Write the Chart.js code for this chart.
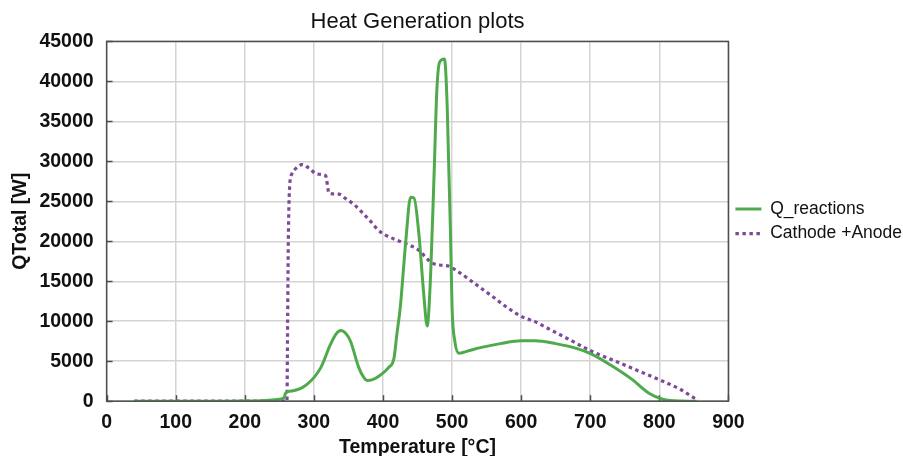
<!DOCTYPE html>
<html>
<head>
<meta charset="utf-8">
<script src="https://cdn.jsdelivr.net/npm/chart.js@4/dist/chart.umd.min.js"></script>
<style>
html,body{margin:0;padding:0;background:#fff;}
#wrap{width:903px;height:456px;position:relative;}
</style>
</head>
<body>
<div id="wrap"><canvas id="c" width="903" height="456"></canvas></div>
<script>
// Q_reactions series: temperature [°C] and value [W]
const qReactionsT = [40,100,150,200,230,250,257,259,270,290,310,324,332,339,346,353,365,372,377,385,396,408,416,420,425,433,440,445,452,459,464,469,474,478,482,489,493,498,500,504,510,520,541,570,600,620,650,680,702,730,761,785,805,830,854];
const qReactionsV = [0,0,0,30,100,250,450,1000,1300,2100,4200,7100,8400,8850,8500,7500,4200,3000,2600,2700,3250,4200,5400,8300,11700,20000,25500,25400,20900,13400,9400,15900,28400,38900,42400,42800,36800,20000,11700,7500,6000,6200,6700,7200,7550,7550,7200,6600,5900,4500,2700,1000,250,20,0];
// Cathode + Anode series
const cathodeT = [40,100,200,261,262,263,265,268,275,283,292,305,317,322,336,345,358,370,382,392,401,430,450,471,485,495,507,541,560,580,604,620,640,670,702,740,770,805,830,845,856];
const cathodeV = [0,0,0,0,10000,20000,27000,28400,29200,29600,29200,28400,28200,26000,25900,25400,24600,23600,22500,21500,20900,19800,19000,17300,17000,16900,16300,14200,13000,11700,10450,9950,9050,7700,6250,4880,3780,2500,1500,700,100];

const xTicks = [0,100,200,300,400,500,600,700,800,900];
const yTicks = [0,5000,10000,15000,20000,25000,30000,35000,40000,45000];

const toPts = (xs, ys) => xs.map((x, i) => ({x: x, y: ys[i]}));

const frame = {
  id: 'frame',
  beforeDatasetsDraw(chart) {
    const {ctx, chartArea: a, scales} = chart;
    ctx.save();
    ctx.strokeStyle = '#4d4d4d';
    ctx.lineWidth = 1.5;
    xTicks.forEach(v => {
      const px = Math.round(scales.x.getPixelForValue(v)) + 0.5;
      ctx.beginPath(); ctx.moveTo(px, a.bottom); ctx.lineTo(px, a.bottom - 6); ctx.stroke();
    });
    yTicks.forEach(v => {
      const py = Math.round(scales.y.getPixelForValue(v)) + 0.5;
      ctx.beginPath(); ctx.moveTo(a.left, py); ctx.lineTo(a.left + 6, py); ctx.stroke();
    });
    ctx.restore();
  },
  afterDatasetsDraw(chart) {
    const {ctx, chartArea: a} = chart;
    ctx.save();
    ctx.strokeStyle = '#4d4d4d';
    ctx.lineWidth = 1.5;
    ctx.strokeRect(a.left, a.top, a.right - a.left, a.bottom - a.top);
    ctx.restore();
  }
};

const FONT = 'Liberation Sans, Arial, sans-serif';

new Chart(document.getElementById('c'), {
  type: 'scatter',
  data: {
    datasets: [
      {
        label: 'Q_reactions',
        data: toPts(qReactionsT, qReactionsV),
        showLine: true,
        borderColor: '#4faa4c',
        backgroundColor: '#4faa4c',
        borderWidth: 3,
        pointRadius: 0,
        cubicInterpolationMode: 'monotone'
      },
      {
        label: 'Cathode +Anode',
        data: toPts(cathodeT, cathodeV),
        showLine: true,
        borderColor: '#7d4a98',
        backgroundColor: '#7d4a98',
        borderWidth: 3.2,
        borderDash: [3.5, 3.5],
        pointRadius: 0,
        cubicInterpolationMode: 'monotone'
      }
    ]
  },
  options: {
    responsive: false,
    animation: false,
    layout: {padding: {left: 6, right: -9, top: 0, bottom: -3}},
    plugins: {
      title: {
        display: true,
        fullSize: false,
        text: 'Heat Generation plots',
        color: '#111',
        font: {family: FONT, size: 22, weight: 'normal'},
        padding: {top: 8.5, bottom: 6.5}
      },
      legend: {
        position: 'right',
        fullSize: false,
        labels: {
          usePointStyle: true,
          pointStyle: 'line',
          pointStyleWidth: 26,
          color: '#111',
          font: {family: FONT, size: 17.5},
          padding: 7,
          generateLabels: (chart) => {
            const items = Chart.defaults.plugins.legend.labels.generateLabels(chart);
            items.forEach((it, i) => {
              const ds = chart.data.datasets[i];
              it.lineDash = ds.borderDash || [];
              it.strokeStyle = ds.borderColor;
              it.lineWidth = ds.borderWidth;
              it.pointStyle = 'line';
            });
            return items;
          }
        }
      },
      tooltip: {enabled: false}
    },
    scales: {
      x: {
        type: 'linear',
        min: 0, max: 900,
        afterBuildTicks: s => { s.ticks = xTicks.map(v => ({value: v})); },
        ticks: {color: '#111', font: {family: FONT, size: 19.5, weight: 'bold'}, padding: 10},
        grid: {color: '#d4d4d4', lineWidth: 1.5, drawTicks: false},
        border: {display: false},
        title: {display: true, text: 'Temperature [°C]', color: '#111', font: {family: FONT, size: 19.5, weight: 'bold'}, padding: {top: -9, bottom: 0}}
      },
      y: {
        type: 'linear',
        min: 0, max: 45000,
        afterBuildTicks: s => { s.ticks = yTicks.map(v => ({value: v})); },
        ticks: {color: '#111', font: {family: FONT, size: 19.5, weight: 'bold'}, padding: 13, callback: v => String(v)},
        grid: {color: '#d4d4d4', lineWidth: 1.5, drawTicks: false},
        border: {display: false},
        title: {display: true, text: 'QTotal [W]', color: '#111', font: {family: FONT, size: 19.5, weight: 'bold'}, padding: {top: 3, bottom: -6}}
      }
    }
  },
  plugins: [frame]
});
</script>
</body>
</html>
